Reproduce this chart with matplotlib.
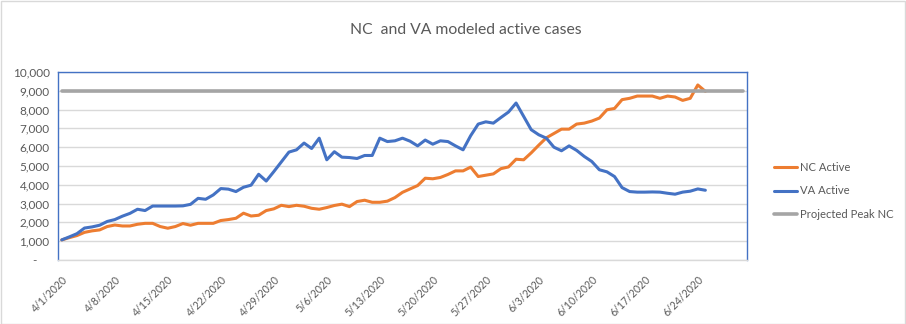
import numpy as np
import pandas as pd
import matplotlib
matplotlib.use("Agg")
import matplotlib.pyplot as plt
from matplotlib.patches import Rectangle
from matplotlib.ticker import FuncFormatter

# modeled active cases, one value per day starting 4/1/2020
nc_active = [1070, 1190, 1300, 1470, 1550, 1600, 1780, 1860, 1810, 1810,
             1900, 1950, 1950, 1780, 1690, 1780, 1940, 1850, 1950, 1950,
             1950, 2100, 2150, 2220, 2490, 2340, 2380, 2630, 2720, 2910,
             2840, 2910, 2860, 2750, 2700, 2790, 2900, 2970, 2840, 3110,
             3180, 3070, 3070, 3130, 3320, 3600, 3780, 3960, 4350, 4320,
             4390, 4550, 4740, 4740, 4940, 4440, 4510, 4580, 4860, 4950,
             5360, 5330, 5700, 6110, 6500, 6730, 6960, 6960, 7230, 7280,
             7390, 7550, 7990, 8060, 8530, 8600, 8720, 8720, 8720, 8600,
             8720, 8670, 8490, 8600, 9310, 8970]

va_active = [1070, 1230, 1400, 1700, 1760, 1850, 2050, 2150, 2330, 2480,
             2700, 2630, 2870, 2870, 2870, 2870, 2880, 2960, 3280, 3230,
             3460, 3800, 3770, 3640, 3870, 3980, 4560, 4200, 4700, 5220,
             5740, 5860, 6220, 5930, 6480, 5330, 5760, 5470, 5450, 5400,
             5560, 5560, 6480, 6300, 6340, 6480, 6320, 6070, 6380, 6160,
             6340, 6300, 6070, 5860, 6610, 7230, 7350, 7280, 7580, 7870,
             8350, 7640, 6930, 6660, 6480, 6000, 5810, 6070, 5830, 5510,
             5240, 4800, 4690, 4440, 3850, 3640, 3610, 3610, 3620, 3610,
             3550, 3500, 3610, 3660, 3780, 3710]

peak_nc = 9000
start_date = "2020-04-01"
peak_end_date = "2020-06-30"

case_dates = pd.date_range(start_date, periods=len(nc_active), freq="D")
peak_dates = pd.date_range(start_date, peak_end_date, freq="D")
peak_series = np.full(len(peak_dates), peak_nc)

ORANGE = "#ED7D31"
BLUE = "#4472C4"
GREY = "#A5A5A5"
TEXT = "#595959"
GRID = "#D9D9D9"

plt.rcParams["font.family"] = ["Lato", "DejaVu Sans"]

fig = plt.figure(figsize=(9.06, 3.24), dpi=100)
W, H = 906, 324
ax = fig.add_axes([58 / W, 1 - 260 / H, (747 - 58) / W, (260 - 72) / H])

# chart border
fig.patches.append(Rectangle((0.5 / W, 0.5 / H), 1 - 1.5 / W, 1 - 1.5 / H,
                             transform=fig.transFigure, fill=False,
                             edgecolor=GRID, linewidth=1))

ax.plot(case_dates, nc_active, color=ORANGE, lw=2.2, label="NC Active",
        solid_joinstyle="round", solid_capstyle="round")
ax.plot(case_dates, va_active, color=BLUE, lw=2.2, label="VA Active",
        solid_joinstyle="round", solid_capstyle="round")
ax.plot(peak_dates, peak_series, color=GREY, lw=2.6, label="Projected Peak NC",
        solid_capstyle="round")

half_day = pd.Timedelta(hours=12)
ax.set_xlim(case_dates[0] - half_day, peak_dates[-1] + half_day)
ax.set_ylim(0, 10000)

ax.set_yticks(range(0, 10001, 1000))
ax.yaxis.set_major_formatter(FuncFormatter(
    lambda v, p: "-    " if v == 0 else f"{int(v):,}"))
ax.grid(axis="y", color=GRID, lw=1)
ax.set_axisbelow(True)

tick_dates = pd.date_range(start_date, "2020-06-24", freq="7D")
ax.set_xticks(tick_dates)
ax.set_xticklabels([f"{d.month}/{d.day}/{d.year}" for d in tick_dates],
                   rotation=45, ha="right", va="top", rotation_mode="anchor",
                   fontsize=7.6)

ax.tick_params(axis="both", length=0, colors=TEXT)
ax.tick_params(axis="y", labelsize=8.5, pad=6)
ax.tick_params(axis="x", pad=10)

for side in ("left", "top", "right"):
    ax.spines[side].set_color(BLUE)
    ax.spines[side].set_linewidth(1)
ax.spines["bottom"].set_color(GRID)
ax.spines["bottom"].set_linewidth(1)

fig.text(466 / W, 1 - 30 / H, "NC  and VA modeled active cases",
         ha="center", va="center", fontsize=11.3, color=TEXT)

fig.legend(loc="center left", bbox_to_anchor=(764 / W, 1 - 191 / H),
           frameon=False, fontsize=8.1, labelcolor=TEXT,
           handlelength=2.0, handletextpad=0.3, labelspacing=1.1)

fig.savefig("out.png", dpi=100)
